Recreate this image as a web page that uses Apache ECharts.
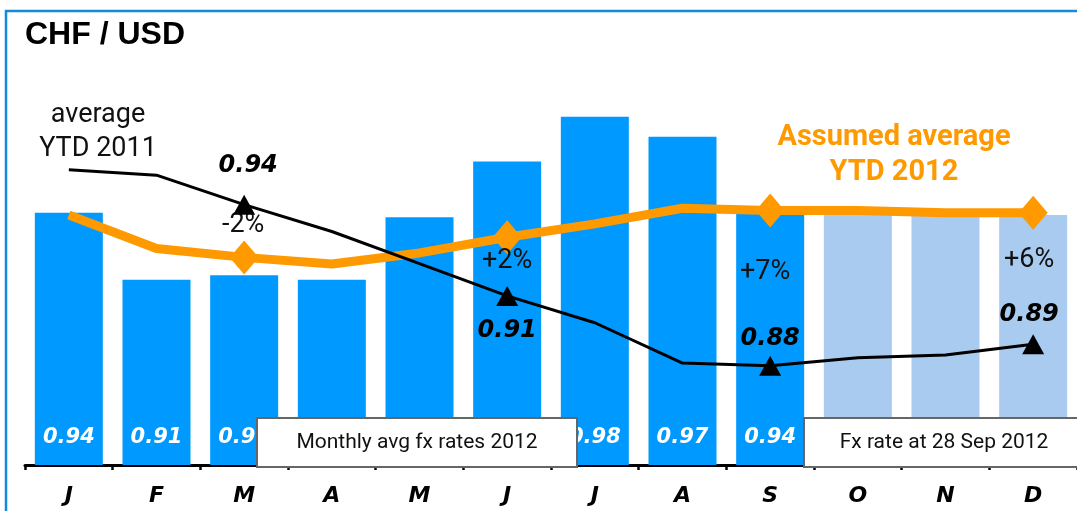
<!DOCTYPE html>
<html>
<head>
<meta charset="utf-8">
<title>CHF / USD</title>
<script src="https://cdn.jsdelivr.net/npm/echarts@6.0.0/dist/echarts.min.js"></script>
<style>
  html, body { margin: 0; padding: 0; background: #fff; }
  #chart { width: 1077px; height: 511px; }
</style>
</head>
<body>
<div id="chart"></div>
<script>
// months of 2012
const months = ['J', 'F', 'M', 'A', 'M', 'J', 'J', 'A', 'S', 'O', 'N', 'D']
// monthly avg fx rate 2012 (J..S actual, O..D = fx rate at 28 Sep 2012)
const monthlyRate = [0.940, 0.910, 0.912, 0.910, 0.938, 0.963, 0.983, 0.974, 0.940, 0.940, 0.939, 0.939]
const actualCount = 9
// assumed average YTD 2012
const ytd2012 = [0.939, 0.924, 0.920, 0.917, 0.922, 0.929, 0.935, 0.942, 0.941, 0.941, 0.940, 0.940]
// average YTD 2011
const ytd2011 = [0.953, 0.951, 0.940, 0.930, 0.918, 0.906, 0.896, 0.881, 0.880, 0.883, 0.884, 0.888]
// months with markers and the difference labels
const markedIdx = [2, 5, 8, 11]
const diffLabels = ['-2%', '+2%', '+7%', '+6%']

const BLUE = '#0099FF'
const LIGHT = '#A8CBEF'
const ORANGE = '#FF9900'

const diffOffsets = [[-1, -32], [0, 24], [-5, 62], [-4, 48]]
const valOffsets = [[4, -39], [0, 35], [0, -27], [-4, -29]]

const orangeData = ytd2012.map((v, i) => {
  const k = markedIdx.indexOf(i)
  if (k < 0) return { value: v, symbol: 'none' }
  return {
    value: v,
    label: { show: true, formatter: diffLabels[k], offset: diffOffsets[k] }
  }
})

const blackData = ytd2011.map((v, i) => {
  const k = markedIdx.indexOf(i)
  if (k < 0) return { value: v, symbol: 'none' }
  return {
    value: v,
    label: { show: true, offset: valOffsets[k] }
  }
})

let myChart = echarts.init(document.getElementById('chart'))
myChart.setOption({
  animation: false,
  title: {
    text: 'CHF / USD',
    left: 25,
    top: 19,
    padding: 0,
    textStyle: { fontFamily: 'Liberation Sans', fontWeight: 'bold', fontSize: 32, color: '#000' }
  },
  grid: { left: 25, right: 0, top: 100, bottom: 46, containLabel: false },
  xAxis: {
    type: 'category',
    data: months,
    boundaryGap: true,
    axisLine: { show: true, lineStyle: { color: '#000', width: 3 } },
    axisTick: { show: true, interval: 0, length: 5, lineStyle: { color: '#000', width: 2.5 } },
    axisLabel: {
      interval: 0,
      margin: 20,
      color: '#000',
      fontFamily: 'DejaVu Sans',
      fontWeight: 'bold',
      fontStyle: 'italic',
      fontSize: 22
    }
  },
  yAxis: [
    { type: 'value', show: false, min: 0.827, max: 0.9905, splitLine: { show: false } },
    { type: 'value', show: false, min: 0.843, max: 0.979, splitLine: { show: false } }
  ],
  series: [
    {
      name: 'Monthly avg fx rates 2012',
      type: 'bar',
      barWidth: 68,
      data: monthlyRate,
      itemStyle: {
        color: p => (p.dataIndex < actualCount ? BLUE : LIGHT)
      },
      label: {
        show: true,
        position: 'insideBottom',
        distance: 17,
        color: '#fff',
        fontFamily: 'DejaVu Sans',
        fontWeight: 'bold',
        fontStyle: 'italic',
        fontSize: 21,
        formatter: p => (p.dataIndex < actualCount ? p.value.toFixed(2) : '')
      },
      z: 2
    },
    {
      name: 'Assumed average YTD 2012',
      type: 'line',
      data: orangeData,
      symbol: 'diamond',
      symbolSize: [29, 34],
      showAllSymbol: true,
      lineStyle: { color: ORANGE, width: 9 },
      itemStyle: { color: ORANGE },
      label: {
        position: 'inside',
        color: '#111',
        fontFamily: 'Roboto',
        fontSize: 27
      },
      z: 3
    },
    {
      name: 'average YTD 2011',
      type: 'line',
      yAxisIndex: 1,
      data: blackData,
      symbol: 'triangle',
      symbolSize: [22, 20],
      showAllSymbol: true,
      lineStyle: { color: '#000', width: 3 },
      itemStyle: { color: '#000' },
      label: {
        position: 'inside',
        color: '#000',
        fontFamily: 'DejaVu Sans',
        fontWeight: 'bold',
        fontStyle: 'italic',
        fontSize: 24,
        formatter: p => p.value.toFixed(2)
      },
      z: 4
    }
  ],
  graphic: [
    // frame
    { type: 'line', z: 100, shape: { x1: 5, y1: 11, x2: 1077, y2: 11 }, style: { stroke: '#1589DA', lineWidth: 2.5 } },
    { type: 'line', z: 100, shape: { x1: 6, y1: 10, x2: 6, y2: 511 }, style: { stroke: '#1589DA', lineWidth: 2.5 } },
    {
      type: 'text', z: 100, x: 98, y: 132,
      style: {
        text: 'average\nYTD 2011', fill: '#111', font: '27px Roboto',
        textAlign: 'center', textVerticalAlign: 'middle', lineHeight: 34
      }
    },
    {
      type: 'text', z: 100, x: 894, y: 155,
      style: {
        text: 'Assumed average\nYTD 2012', fill: ORANGE, font: 'bold 29px Roboto',
        textAlign: 'center', textVerticalAlign: 'middle', lineHeight: 35
      }
    },
    // legend boxes
    {
      type: 'group', z: 100, x: 257, y: 418,
      children: [
        { type: 'rect', z: 100, shape: { x: 0, y: 0, width: 320, height: 49 }, style: { fill: '#fff', stroke: '#666', lineWidth: 2 } },
        { type: 'text', z: 101, x: 160, y: 25, style: { text: 'Monthly avg fx rates 2012', fill: '#111', font: '21px Roboto', textAlign: 'center', textVerticalAlign: 'middle' } }
      ]
    },
    {
      type: 'group', z: 100, x: 804, y: 418,
      children: [
        { type: 'rect', z: 100, shape: { x: 0, y: 0, width: 290, height: 49 }, style: { fill: '#fff', stroke: '#666', lineWidth: 2 } },
        { type: 'text', z: 101, x: 140, y: 25, style: { text: 'Fx rate at 28 Sep 2012', fill: '#111', font: '21px Roboto', textAlign: 'center', textVerticalAlign: 'middle' } }
      ]
    }
  ]
})
</script>
</body>
</html>
